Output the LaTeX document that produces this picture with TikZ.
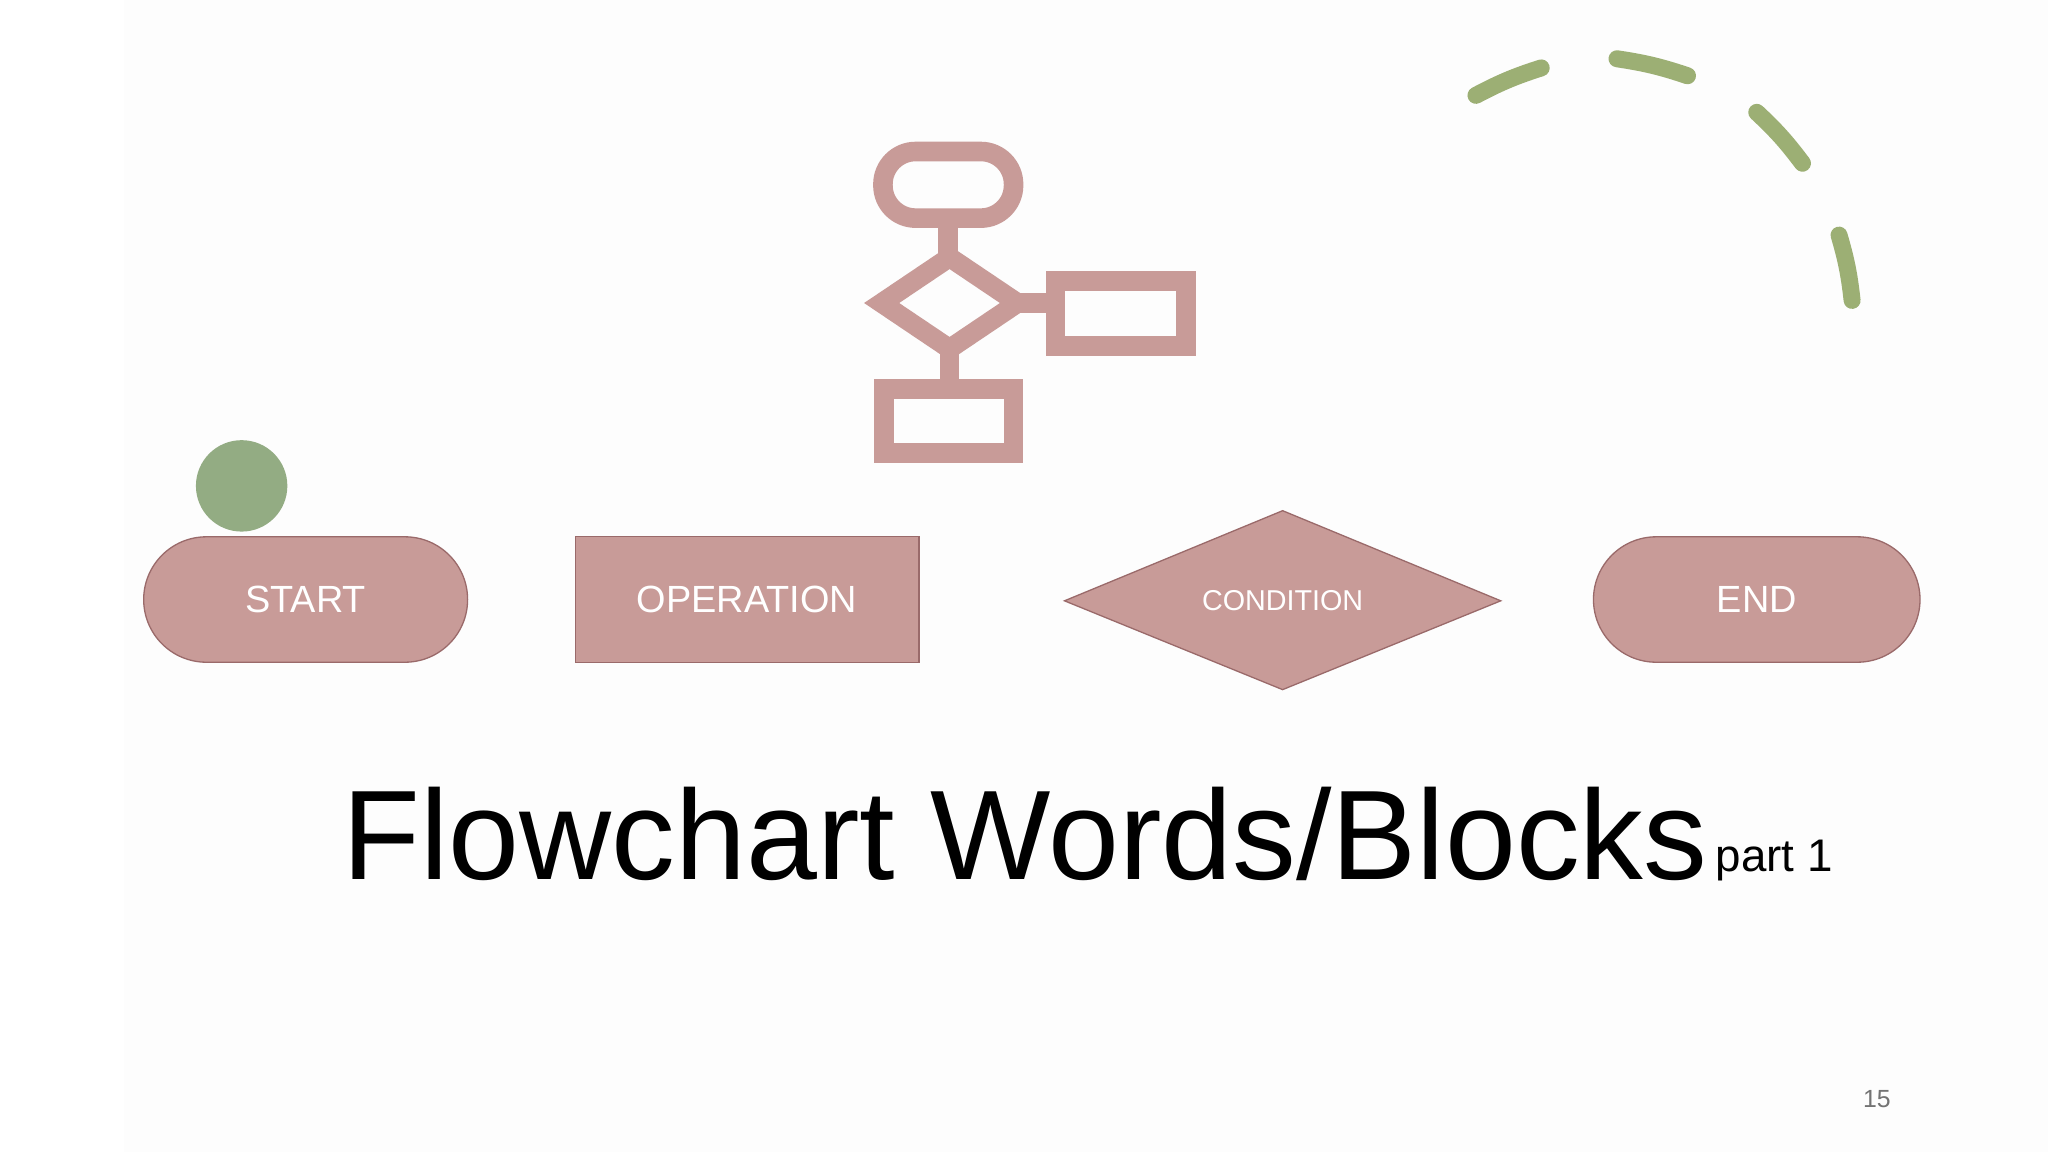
\documentclass[tikz,border=0pt]{standalone}
\usepackage{fontspec}
\setmainfont{Liberation Sans}
\definecolor{pinkf}{HTML}{C89B98}
\definecolor{pinkd}{HTML}{9A6A6A}
\definecolor{greenc}{HTML}{93AC83}
\definecolor{greend}{HTML}{9CAF74}
\begin{document}
\begin{tikzpicture}[x=1pt,y=-1pt,
  blk/.style={fill=pinkf,draw=pinkd,line width=1pt,text=white,font=\fontsize{29}{29}\selectfont},
  ico/.style={draw=pinkf,line width=15pt},
  dsh/.style={draw=greend,line width=13pt,line cap=round}]
\useasboundingbox (0,0) rectangle (1568,882);
\fill[white] (0,0) rectangle (1568,882);
\fill[black!0.8] (95,0) rectangle (1568,882);
% icon
\draw[ico,rounded corners=25pt] (676,116) rectangle (776,167);
\draw[ico] (726,167) -- (726,197);
\draw[ico] (727,197) -- (779,232) -- (727,267) -- (675,232) -- cycle;
\draw[ico] (779,232) -- (808,232);
\draw[ico] (808,215) rectangle (908,265);
\draw[ico] (727,267) -- (727,298);
\draw[ico] (677,298) rectangle (776,347);
% green dashes
\draw[dsh] (1130,73) to[bend left=5] (1180,52);
\draw[dsh] (1238,45) to[bend left=5] (1292,58);
\draw[dsh] (1345,86) to[bend left=5] (1380,125);
\draw[dsh] (1408,180) to[bend left=5] (1418,230);
% blocks
\node[blk,rounded corners=48pt,minimum width=248pt,minimum height=96pt,inner sep=0] (start) at (234,459) {START};
\fill[greenc] (185,372) circle (35pt);
\node[blk,minimum width=263pt,minimum height=96pt,inner sep=0] (op) at (572,459) {OPERATION};
\draw[fill=pinkf,draw=pinkd,line width=1pt] (815,460) -- (982,391) -- (1149,460) -- (982,528) -- cycle;
\node[text=white,font=\fontsize{22}{22}\selectfont] (cond) at (982,460) {CONDITION};
\node[blk,rounded corners=48pt,minimum width=250pt,minimum height=96pt,inner sep=0] (end) at (1345,459) {END};
% title
\node[anchor=base west,inner sep=0,font=\fontsize{97.6}{97}\selectfont] (title) at (262,673) {Flowchart Words/Blocks};
\node[anchor=base west,inner sep=0,font=\fontsize{35}{35}\selectfont] (part) at ([xshift=6pt,yshift=6pt]title.base east) {part 1};
\node[anchor=base,text=black!55,font=\fontsize{19}{19}\selectfont] (num) at (1437,848) {15};
\end{tikzpicture}
\end{document}
